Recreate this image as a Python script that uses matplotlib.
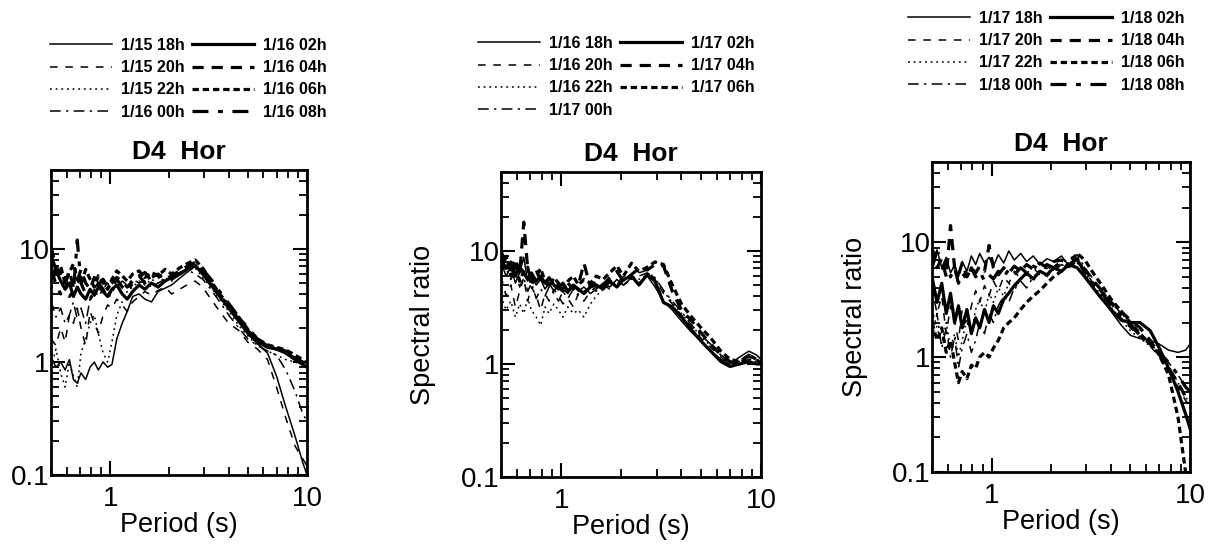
import matplotlib
matplotlib.use("Agg")
import matplotlib.pyplot as plt
from matplotlib.ticker import LogLocator, NullFormatter

plt.rcParams['font.family'] = ['Liberation Sans', 'DejaVu Sans']

# periods (s) where the spectral ratios were read
period = [0.50, 0.53, 0.56, 0.59, 0.62, 0.65, 0.68, 0.71, 0.75, 0.79,
          0.83, 0.87, 0.92, 0.97, 1.02, 1.08, 1.15, 1.22, 1.30, 1.40,
          1.50, 1.62, 1.75, 1.90, 2.05, 2.25, 2.45, 2.70, 2.95, 3.25,
          3.6, 4.0, 4.5, 5.0, 5.6, 6.3, 7.0, 7.8, 8.7, 9.5, 10.0]

# panel 1
labels1 = ["1/15 18h", "1/15 20h", "1/15 22h", "1/16 00h",
           "1/16 02h", "1/16 04h", "1/16 06h", "1/16 08h"]
r1_18 = [1.1, 0.9, 1.0, 0.85, 1.05, 0.7, 0.65, 0.8, 0.7, 0.9, 1.0, 0.85, 1.0, 0.9, 0.95, 1.6, 2.2, 2.8, 3.8, 4.0,
         3.6, 3.4, 4.2, 4.5, 4.8, 5.5, 6.2, 7.0, 6.0, 4.8, 3.8, 3.0, 2.3, 1.8, 1.45, 1.2, 0.75, 0.4, 0.22, 0.13, 0.1]
r1_20 = [1.6, 1.4, 2.0, 1.5, 2.6, 2.2, 3.0, 2.0, 1.4, 2.8, 2.2, 1.8, 2.6, 3.2, 3.0, 3.6, 3.2, 2.8, 3.4, 3.8,
         4.2, 3.9, 4.3, 4.6, 4.0, 4.4, 4.8, 5.2, 4.6, 3.6, 2.8, 2.2, 1.9, 1.5, 1.3, 1.05, 0.6, 0.32, 0.18, 0.14, 0.12]
r1_22 = [0.9, 1.3, 0.8, 0.6, 1.0, 0.75, 0.6, 1.2, 1.6, 2.2, 2.6, 1.8, 1.2, 1.0, 1.5, 2.6, 3.4, 4.2, 4.6, 5.2,
         4.8, 5.4, 5.0, 5.6, 5.2, 6.0, 6.4, 6.8, 5.6, 4.6, 3.6, 2.8, 2.1, 1.7, 1.4, 1.25, 1.15, 1.05, 1.0, 0.95, 0.9]
r1_00 = [3.5, 2.5, 3.0, 2.2, 2.6, 3.4, 2.4, 3.0, 2.2, 3.6, 4.4, 3.8, 4.4, 5.0, 4.2, 4.6, 5.2, 4.8, 5.4, 5.0,
         5.2, 4.6, 5.0, 5.4, 5.8, 6.2, 6.6, 6.0, 5.4, 4.4, 3.4, 2.6, 2.0, 1.6, 1.4, 1.25, 1.15, 0.85, 0.55, 0.35, 0.3]
r1_02 = [9.0, 6.5, 5.2, 4.4, 5.0, 3.8, 4.6, 4.0, 3.6, 4.4, 3.9, 4.6, 4.2, 3.8, 4.4, 4.8, 4.0, 3.6, 4.2, 4.8,
         4.4, 5.0, 4.6, 5.2, 5.6, 6.0, 6.6, 7.2, 6.0, 4.8, 3.8, 3.0, 2.3, 1.8, 1.5, 1.35, 1.3, 1.2, 1.05, 0.95, 0.9]
r1_04 = [10.5, 7.0, 6.0, 5.0, 6.4, 4.6, 5.2, 6.6, 5.0, 4.4, 5.6, 4.8, 5.4, 4.6, 5.0, 5.6, 5.2, 4.6, 5.2, 5.8,
         5.0, 5.6, 6.0, 5.4, 5.8, 6.4, 7.0, 7.6, 6.4, 5.0, 3.9, 3.1, 2.4, 1.9, 1.55, 1.4, 1.32, 1.25, 1.1, 1.0, 0.95]
r1_06 = [8.0, 5.6, 7.0, 5.0, 6.2, 7.4, 5.4, 4.8, 6.6, 5.4, 4.6, 5.8, 5.0, 4.4, 5.4, 6.4, 5.8, 5.2, 6.0, 6.4,
         5.6, 6.2, 5.8, 6.6, 6.0, 6.8, 7.4, 8.0, 6.8, 5.2, 4.0, 3.2, 2.5, 1.95, 1.6, 1.42, 1.35, 1.28, 1.15, 1.05, 0.98]
r1_08 = [7.0, 4.8, 4.0, 5.6, 3.8, 4.2, 12.0, 5.0, 4.0, 3.6, 4.2, 5.0, 4.4, 3.6, 4.6, 5.4, 4.6, 4.2, 5.0, 5.6,
         6.2, 5.2, 5.6, 6.0, 5.4, 6.0, 6.6, 7.4, 6.6, 5.4, 4.2, 3.3, 2.5, 2.0, 1.6, 1.4, 1.3, 1.2, 1.08, 1.0, 0.92]

# panel 2
labels2 = ["1/16 18h", "1/16 20h", "1/16 22h", "1/17 00h",
           "1/17 02h", "1/17 04h", "1/17 06h"]
r2_18 = [8.0, 6.0, 7.2, 5.2, 6.4, 8.8, 5.4, 6.2, 5.0, 5.6, 4.6, 5.2, 4.4, 5.0, 4.6, 4.2, 5.0, 4.4, 4.8, 4.2,
         4.6, 5.2, 4.8, 5.6, 5.0, 5.8, 5.2, 6.0, 4.8, 3.6, 3.0, 2.4, 1.9, 1.6, 1.3, 1.1, 1.0, 1.15, 1.3, 1.2, 1.1]
r2_20 = [6.0, 4.0, 5.0, 3.2, 4.4, 5.8, 3.6, 4.8, 4.0, 3.0, 4.2, 3.6, 4.6, 4.0, 3.4, 3.8, 3.2, 4.2, 3.6, 4.4,
         4.8, 5.2, 5.6, 5.0, 6.2, 5.6, 6.4, 6.8, 5.6, 4.2, 3.4, 2.7, 2.1, 1.7, 1.4, 1.15, 1.0, 1.05, 1.15, 1.1, 1.05]
r2_22 = [4.0, 3.0, 3.6, 2.6, 3.4, 2.8, 3.8, 3.0, 2.6, 2.2, 3.2, 2.8, 3.4, 3.0, 2.6, 3.2, 2.8, 3.0, 2.6, 3.4,
         4.0, 4.6, 5.2, 4.8, 5.4, 6.0, 5.6, 6.2, 5.8, 4.4, 3.5, 2.8, 2.2, 1.75, 1.45, 1.2, 1.05, 1.0, 1.1, 1.05, 1.0]
r2_00 = [9.0, 7.0, 5.6, 6.6, 4.8, 5.8, 4.4, 5.2, 3.8, 4.6, 4.0, 4.8, 4.2, 3.6, 4.4, 3.8, 4.6, 4.0, 4.4, 4.8,
         4.4, 5.0, 4.6, 5.4, 5.0, 5.6, 6.0, 6.4, 5.8, 4.5, 3.6, 2.9, 2.2, 1.8, 1.5, 1.2, 1.05, 1.0, 1.1, 1.1, 1.05]
r2_02 = [8.5, 7.0, 8.0, 6.0, 7.2, 6.4, 5.6, 6.4, 5.4, 6.0, 5.2, 5.8, 5.0, 4.6, 5.2, 4.4, 5.0, 4.6, 4.2, 4.8,
         5.0, 4.6, 5.4, 4.8, 5.6, 6.0, 5.0, 6.2, 5.4, 3.5, 3.2, 2.6, 2.0, 1.6, 1.3, 1.05, 0.95, 1.0, 1.05, 1.0, 1.0]
r2_04 = [10.0, 7.6, 6.8, 8.6, 6.2, 18.0, 7.0, 5.6, 6.8, 5.4, 5.8, 5.0, 5.6, 4.8, 4.4, 5.2, 4.6, 5.0, 7.8, 4.8,
         5.4, 5.0, 5.8, 6.6, 5.4, 6.2, 7.0, 6.8, 7.6, 7.4, 4.4, 3.0, 2.4, 1.9, 1.5, 1.2, 1.05, 1.0, 1.2, 1.1, 1.0]
r2_06 = [7.0, 9.0, 6.0, 7.8, 5.4, 6.6, 7.2, 5.0, 6.0, 7.0, 5.4, 4.8, 5.8, 5.2, 4.6, 5.4, 6.0, 5.0, 5.6, 5.2,
         6.0, 5.6, 6.4, 7.4, 6.0, 7.8, 6.6, 7.2, 8.0, 7.6, 5.0, 3.4, 2.6, 2.1, 1.7, 1.3, 1.1, 1.05, 1.2, 1.1, 1.05]

# panel 3
labels3 = ["1/17 18h", "1/17 20h", "1/17 22h", "1/18 00h",
           "1/18 02h", "1/18 04h", "1/18 06h", "1/18 08h"]
r3_18 = [7.0, 8.6, 6.0, 7.4, 5.4, 6.4, 5.0, 6.8, 5.6, 7.6, 6.4, 8.0, 6.6, 7.4, 6.2, 7.8, 6.6, 8.4, 7.0, 8.0,
         6.8, 7.6, 6.4, 7.2, 6.8, 7.6, 6.2, 7.0, 5.2, 4.0, 3.2, 2.5, 1.9, 1.55, 1.45, 1.4, 1.3, 1.15, 1.1, 1.15, 1.3]
r3_20 = [4.0, 2.4, 3.4, 1.6, 2.8, 2.0, 1.4, 2.6, 1.8, 2.8, 3.8, 3.0, 4.2, 3.4, 4.6, 3.8, 5.0, 4.4, 5.6, 4.8,
         5.4, 6.0, 5.2, 6.2, 5.6, 6.4, 6.0, 6.8, 5.6, 4.4, 3.6, 2.9, 2.2, 1.8, 1.5, 1.25, 1.0, 0.75, 0.55, 0.42, 0.38]
r3_22 = [2.6, 1.8, 1.3, 2.0, 1.2, 1.6, 1.0, 1.4, 2.2, 1.6, 2.6, 3.2, 2.4, 3.6, 3.0, 4.0, 3.4, 4.4, 3.8, 4.8,
         5.2, 4.6, 5.6, 5.0, 5.8, 6.4, 6.0, 6.6, 5.4, 4.2, 3.4, 2.7, 2.1, 1.7, 1.45, 1.25, 1.05, 0.85, 0.6, 0.45, 0.4]
r3_00 = [1.4, 2.4, 1.2, 1.8, 1.0, 1.5, 0.8, 1.2, 1.6, 1.1, 1.4, 2.0, 1.6, 2.4, 2.0, 2.8, 3.4, 3.0, 4.0, 4.6,
         4.0, 5.0, 5.6, 5.0, 6.0, 6.6, 7.2, 7.8, 6.0, 4.8, 3.8, 3.0, 2.4, 2.0, 1.6, 1.3, 1.1, 0.9, 0.7, 0.55, 0.5]
r3_02 = [5.0, 3.0, 4.4, 2.4, 3.6, 2.0, 2.8, 1.8, 2.6, 1.6, 2.2, 1.8, 2.6, 2.0, 2.8, 2.4, 3.2, 3.6, 4.2, 4.8,
         5.4, 4.8, 5.6, 5.2, 6.0, 5.6, 6.4, 6.0, 5.0, 4.0, 3.2, 2.6, 2.1, 2.0, 2.0, 1.7, 1.2, 0.8, 0.5, 0.32, 0.24]
r3_04 = [9.0, 6.0, 7.2, 5.0, 14.0, 6.0, 5.2, 6.6, 5.0, 6.0, 5.4, 6.2, 5.6, 9.4, 6.0, 5.2, 6.0, 5.4, 6.2, 5.6,
         6.4, 5.8, 6.6, 6.0, 6.8, 7.0, 6.4, 7.2, 5.8, 4.6, 3.8, 3.0, 2.5, 2.1, 1.8, 1.4, 1.05, 0.8, 0.6, 0.45, 0.4]
r3_06 = [2.0, 1.4, 1.8, 1.1, 1.4, 0.9, 0.6, 0.75, 0.65, 0.85, 0.8, 1.0, 1.1, 1.0, 1.2, 1.4, 1.8, 2.0, 2.2, 2.6,
         3.0, 3.4, 3.8, 4.4, 5.0, 5.6, 6.6, 8.0, 7.0, 5.4, 4.2, 3.2, 2.5, 2.0, 1.6, 1.3, 1.05, 0.7, 0.3, 0.1, 0.09]
r3_08 = [6.0, 8.4, 5.6, 7.0, 5.0, 6.0, 4.4, 5.4, 4.8, 6.0, 5.0, 5.6, 4.6, 5.2, 4.8, 5.6, 5.0, 5.8, 5.2, 6.0,
         5.4, 6.2, 5.8, 6.4, 6.0, 6.8, 6.2, 7.0, 5.6, 4.4, 3.6, 2.8, 2.3, 1.9, 1.55, 1.3, 1.1, 0.9, 0.7, 0.55, 0.5]

# line styles: 4 thin, then 4 thick
styles = ['-', (0, (5, 5)), (0, (1.2, 2.5)), (0, (7, 3.5, 1.5, 3.5)),
          '-', (0, (3.5, 2.5)), (0, (2, 1.2)), (0, (5, 3, 1.5, 3))]
widths = [1.1, 1.1, 1.1, 1.1, 2.3, 2.3, 2.3, 2.3]

panels = [
    ([r1_18, r1_20, r1_22, r1_00, r1_02, r1_04, r1_06, r1_08], labels1,
     [51, 170, 256, 305], (50, 38), False),
    ([r2_18, r2_20, r2_22, r2_00, r2_02, r2_04, r2_06], labels2,
     [501, 172, 260, 305], (478, 36), True),
    ([r3_18, r3_20, r3_22, r3_00, r3_02, r3_04, r3_06, r3_08], labels3,
     [932, 162, 258, 310], (908, 11), True),
]

W, H = 1212, 546
fig = plt.figure(figsize=(W / 100, H / 100), dpi=100)

for series, labels, (px, py, pw, ph), (lx, ly), ylab in panels:
    ax = fig.add_axes([px / W, 1 - (py + ph) / H, pw / W, ph / H])
    for i, r in enumerate(series):
        ax.plot(period, r, color='black', linestyle=styles[i], lw=widths[i], label=labels[i])
    ax.set_xscale('log')
    ax.set_yscale('log')
    ax.set_xlim(0.5, 10)
    ax.set_ylim(0.1, 50)
    ax.set_xticks([1, 10], ['1', '10'])
    ax.set_yticks([0.1, 1, 10], ['0.1', '1', '10'])
    ax.xaxis.set_minor_locator(LogLocator(base=10, subs=range(2, 10)))
    ax.yaxis.set_minor_locator(LogLocator(base=10, subs=range(2, 10)))
    ax.xaxis.set_minor_formatter(NullFormatter())
    ax.yaxis.set_minor_formatter(NullFormatter())
    ax.tick_params(which='both', direction='in', top=True, right=True, labelsize=20)
    ax.tick_params(which='major', length=10, width=1.5)
    ax.tick_params(which='minor', length=6, width=1.3)
    ax.tick_params(axis='x', pad=8)
    ax.tick_params(axis='y', pad=1)
    for s in ax.spines.values():
        s.set_linewidth(2)
    ax.set_xlabel('Period (s)', fontsize=19.5, labelpad=0)
    if ylab:
        ax.set_ylabel('Spectral ratio', fontsize=19.5)
        ax.yaxis.set_label_coords(-0.25, 0.5)
    ax.set_title('D4  Hor', fontsize=19, fontweight='bold', pad=8)
    ax.legend(loc='upper left', bbox_to_anchor=(lx / W, 1 - ly / H),
              bbox_transform=fig.transFigure, ncol=2, frameon=False,
              prop={'size': 11.5, 'weight': 'bold'}, handlelength=3.9,
              handletextpad=0.55, columnspacing=0.45, labelspacing=0.45,
              borderpad=0, borderaxespad=0)

fig.savefig('out.png', dpi=100)
